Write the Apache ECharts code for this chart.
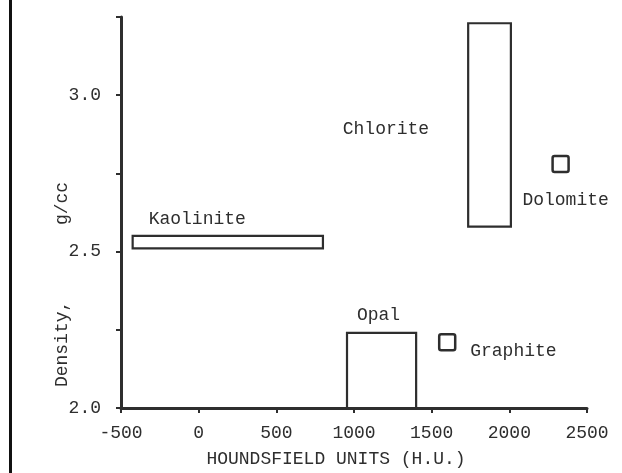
<!DOCTYPE html>
<html>
<head>
<meta charset="utf-8">
<script src="https://cdn.jsdelivr.net/npm/echarts@6/dist/echarts.min.js"></script>
<style>
  html, body { margin: 0; padding: 0; background: #fff; }
  #chart { width: 622px; height: 473px; }
</style>
</head>
<body>
<div id="chart"></div>
<script>
// Minerals spanning a range of CT numbers (H.U.) and densities (g/cc)
const rangeNames = ['Kaolinite', 'Opal', 'Chlorite'];
const huLow = [-425, 955, 1735];
const huHigh = [800, 1400, 2010];
const densityLow = [2.51, 2.0, 2.58];
const densityHigh = [2.55, 2.24, 3.23];

// Minerals with a single measured value
const pointNames = ['Graphite', 'Dolomite'];
const pointHU = [1600, 2330];
const pointDensity = [2.21, 2.78];

// Axis ticks
const xTickValues = [-500, 0, 500, 1000, 1500, 2000, 2500];
const yTickLabels = ['2.0', '2.5', '3.0'];

const INK = '#2e2e2e';
const FONT = 'Liberation Mono';

// Where each name sits relative to its mark (pixels)
const rangeLabelPlacement = {
  Kaolinite: { anchor: 'left-top', dx: 16, dy: -17, align: 'left' },
  Opal: { anchor: 'center-top', dx: -3, dy: -18, align: 'center' },
  Chlorite: { anchor: 'left-middle', dx: -39, dy: 4, align: 'right' }
};
const pointLabelPlacement = {
  Graphite: { dx: 23, dy: 9, align: 'left' },
  Dolomite: { dx: 5, dy: 36, align: 'center' }
};

const labelStyle = (x, y, text, align) => ({
  type: 'text',
  style: {
    x: x, y: y, text: text,
    fill: INK, font: '18px "' + FONT + '"',
    align: align, verticalAlign: 'middle'
  }
});

const chart = echarts.init(document.getElementById('chart'), null, { renderer: 'canvas' });

chart.setOption({
  animation: false,
  backgroundColor: '#fff',
  grid: { left: 121, right: 35, top: 17, bottom: 64 },
  xAxis: {
    type: 'value',
    min: xTickValues[0],
    max: xTickValues[xTickValues.length - 1],
    interval: 500,
    name: 'HOUNDSFIELD UNITS (H.U.)',
    nameLocation: 'middle',
    nameGap: 42,
    nameMoveOverlap: false,
    nameTextStyle: { fontFamily: FONT, fontSize: 18, color: INK, padding: [0, 36, 0, 0] },
    axisLine: { show: true, onZero: false, lineStyle: { color: INK, width: 3 } },
    axisTick: { show: true, inside: false, length: 5, lineStyle: { color: INK, width: 2 } },
    axisLabel: {
      margin: 16, fontFamily: FONT, fontSize: 18, color: INK,
      formatter: v => String(v)
    },
    splitLine: { show: false }
  },
  yAxis: {
    type: 'value',
    min: 2.0,
    max: 3.25,
    interval: 0.25,
    name: 'Density,       g/cc',
    nameLocation: 'middle',
    nameRotate: 90,
    nameGap: 50,
    nameMoveOverlap: false,
    nameTextStyle: { fontFamily: FONT, fontSize: 18, color: INK, padding: [0, 144, 0, 0] },
    axisLine: { show: true, onZero: false, lineStyle: { color: INK, width: 3 } },
    axisTick: { show: true, inside: false, length: 5, lineStyle: { color: INK, width: 2 } },
    axisLabel: {
      margin: 20, fontFamily: FONT, fontSize: 18, color: INK,
      padding: [6, 0, 0, 0],
      formatter: v => {
        const s = v.toFixed(1);
        return (Math.abs(v * 2 - Math.round(v * 2)) < 1e-6 && yTickLabels.includes(s)) ? s : '';
      }
    },
    splitLine: { show: false }
  },
  graphic: [
    { type: 'line', shape: { x1: 10.5, y1: 0, x2: 10.5, y2: 473 }, style: { stroke: '#111', lineWidth: 3 } }
  ],
  series: [
    {
      type: 'custom',
      name: 'ranges',
      data: rangeNames.map((n, i) => [huLow[i], huHigh[i], densityLow[i], densityHigh[i]]),
      renderItem: (params, api) => {
        const tl = api.coord([api.value(0), api.value(3)]);
        const br = api.coord([api.value(1), api.value(2)]);
        const name = rangeNames[params.dataIndex];
        const pl = rangeLabelPlacement[name];
        let ax = tl[0], ay = tl[1];
        if (pl.anchor === 'center-top') ax = (tl[0] + br[0]) / 2;
        if (pl.anchor === 'left-middle') ay = (tl[1] + br[1]) / 2;
        return {
          type: 'group',
          children: [
            {
              type: 'rect',
              shape: { x: tl[0], y: tl[1], width: br[0] - tl[0], height: br[1] - tl[1] },
              style: { fill: 'rgba(0,0,0,0)', stroke: INK, lineWidth: 2.2 }
            },
            labelStyle(ax + pl.dx, ay + pl.dy, name, pl.align)
          ]
        };
      }
    },
    {
      type: 'custom',
      name: 'points',
      data: pointNames.map((n, i) => [pointHU[i], pointDensity[i]]),
      renderItem: (params, api) => {
        const c = api.coord([api.value(0), api.value(1)]);
        const name = pointNames[params.dataIndex];
        const pl = pointLabelPlacement[name];
        const s = 16;
        return {
          type: 'group',
          children: [
            {
              type: 'rect',
              shape: { x: c[0] - s / 2, y: c[1] - s / 2, width: s, height: s, r: 2 },
              style: { fill: '#fff', stroke: INK, lineWidth: 2.5 }
            },
            labelStyle(c[0] + pl.dx, c[1] + pl.dy, name, pl.align)
          ]
        };
      }
    }
  ]
});
</script>
</body>
</html>
